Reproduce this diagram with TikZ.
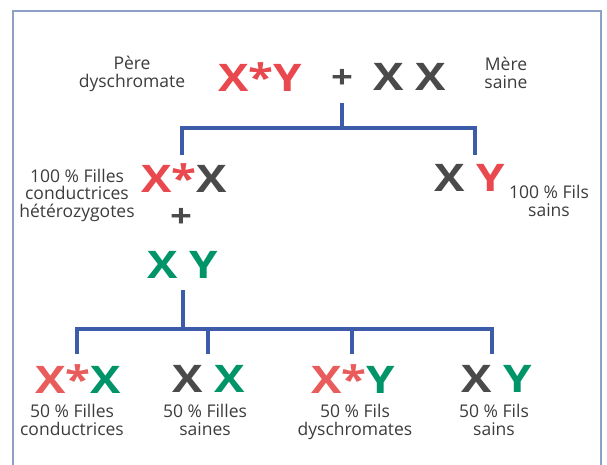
\documentclass[tikz,border=0pt]{standalone}
\usepackage{fontspec}
\setmainfont{Open Sans}
\definecolor{gred}{RGB}{232,72,78}
\definecolor{gred2}{RGB}{232,92,92}
\definecolor{ggray}{RGB}{74,74,74}
\definecolor{ggreen}{RGB}{0,148,104}
\definecolor{lblue}{RGB}{60,92,170}
\definecolor{fblue}{RGB}{140,160,200}
\definecolor{ltext}{RGB}{60,60,60}
\begin{document}
\begin{tikzpicture}[x=1pt,y=-1pt,
  gene/.style={inner sep=0pt, xscale=1.2, transform shape, font=\fontsize{38}{38}\selectfont\bfseries},
  lbl/.style={inner sep=0pt, text=ltext, font=\fontsize{17.5}{17.5}\selectfont, align=center},
  conn/.style={draw=lblue, line width=4pt, line join=miter},
  plus/.style={inner sep=0pt, text=ggray, xscale=1.2, transform shape, font=\fontsize{32}{32}\selectfont\bfseries}]
\useasboundingbox (0,0) rectangle (607,464);
\draw[fblue, line width=1.8pt] (13,480) -- (13,11) -- (601,11) -- (601,480);
% parents
\node[lbl] (pere) at (132,74) {Père\\dyschromate};
\node[gene] (p1) at (260,77) {\textcolor{gred}{X*Y}};
\node[plus] (plus1) at (342,79) {+};
\node[gene, text=ggray] (p2) at (410,77) {X X};
\node[lbl] (mere) at (506,73) {Mère\\saine};
\coordinate (j1) at (342,128);
\coordinate (f1t) at (182,155);
\coordinate (s1t) at (475,155);
\coordinate (st1) at (342,103);
\draw[conn] (st1) -- (j1);
\draw[conn] (f1t) |- (j1) -| (s1t);
% F1
\node[gene] (f1) at (184,178) {\textcolor{gred}{X*}\textcolor{ggray}{X}};
\node[lbl] (f1l) at (77,195) {100 \% Filles\\conductrices\\hétérozygotes};
\node[gene] (s1) at (470,178) {\textcolor{ggray}{X} \textcolor{gred}{Y}};
\node[lbl] (s1l) at (549,201) {100 \% Fils\\sains};
\node[plus] (plus2) at (181,218) {+};
\node[gene, text=ggreen] (g) at (183,265) {X Y};
% F2
\coordinate (st2) at (183,290);
\coordinate (j2) at (183,329);
\coordinate (c1t) at (77,354);
\coordinate (c2t) at (208,354);
\coordinate (c3t) at (352,354);
\coordinate (c4t) at (492,354);
\draw[conn] (st2) -- (j2);
\draw[conn] (c1t) |- (j2) -| (c4t);
\draw[conn] (c2t) -- (c2t |- j2);
\draw[conn] (c3t) -- (c3t |- j2);
\node[gene] (c1) at (78,379) {\textcolor{gred2}{X*}\textcolor{ggreen}{X}};
\node[gene] (c2) at (209,379) {\textcolor{ggray}{X} \textcolor{ggreen}{X}};
\node[gene] (c3) at (353,379) {\textcolor{gred2}{X*}\textcolor{ggreen}{Y}};
\node[gene] (c4) at (497,379) {\textcolor{ggray}{X} \textcolor{ggreen}{Y}};
\node[lbl, anchor=north] (c1l) at (72,404) {50 \% Filles\\conductrices};
\node[lbl, anchor=north] (c2l) at (205,404) {50 \% Filles\\saines};
\node[lbl, anchor=north] (c3l) at (355,404) {50 \% Fils\\dyschromates};
\node[lbl, anchor=north] (c4l) at (494,404) {50 \% Fils\\sains};
\end{tikzpicture}
\end{document}
